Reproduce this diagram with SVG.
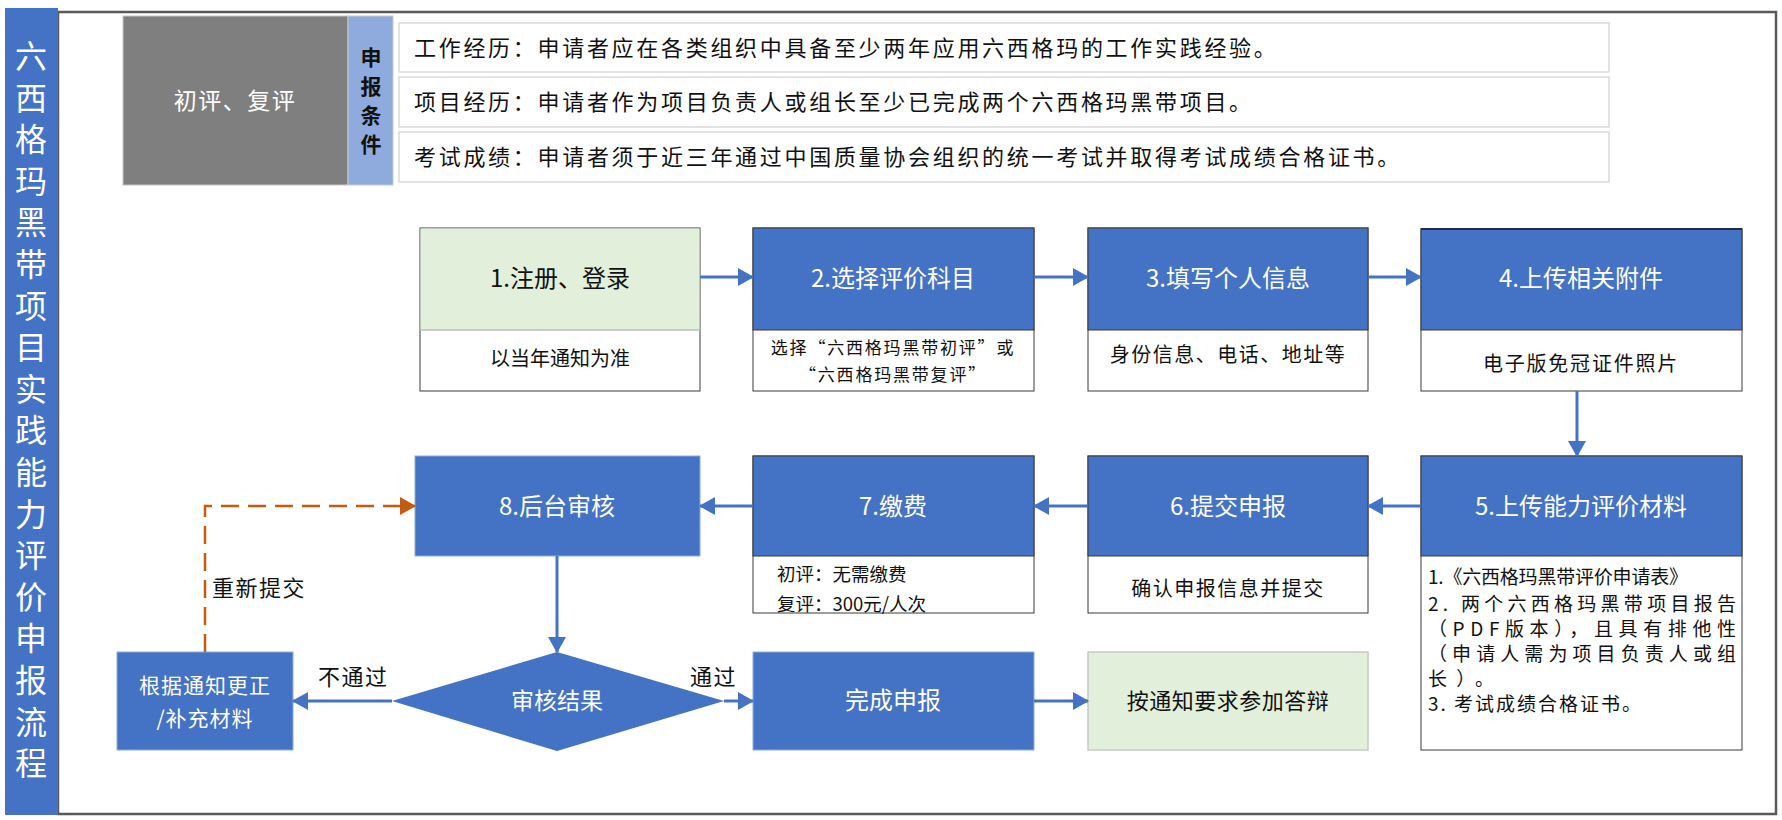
<svg xmlns="http://www.w3.org/2000/svg" width="1782" height="820" viewBox="0 0 1782 820">
<defs>
<style>
text{font-family:"Noto Sans CJK SC","Noto Sans",sans-serif;}
.hdr{fill:#4472C4;stroke:#3a3a3a;stroke-width:1;}
.body{fill:#FFFFFF;stroke:#3a3a3a;stroke-width:1;}
.wt{fill:#FFFFFF;}
.bk{fill:#111111;}
.c{text-anchor:middle;}
.h{font-size:24px;}
.req{fill:#FFFFFF;stroke:#D9D9D9;stroke-width:1.5;}
.reqt{font-size:22px;letter-spacing:2.7px;fill:#111;}
.vt{font-size:21px;font-weight:bold;fill:#111;text-anchor:middle;}
.conn{stroke:#4472C4;stroke-width:3;fill:none;marker-end:url(#ah);}
.dash{stroke:#C55A11;stroke-width:2.5;fill:none;stroke-dasharray:18 9;marker-end:url(#ao);}
.lbl{font-size:22px;letter-spacing:1.5px;fill:#111;}
</style>
<marker id="ah" markerUnits="userSpaceOnUse" markerWidth="16" markerHeight="18" refX="15" refY="9" orient="auto"><path d="M0,0 L16,9 L0,18 z" fill="#4472C4"/></marker>
<marker id="ao" markerUnits="userSpaceOnUse" markerWidth="16" markerHeight="18" refX="15" refY="9" orient="auto"><path d="M0,0 L16,9 L0,18 z" fill="#C55A11"/></marker>
</defs>
<rect width="1782" height="820" fill="#FFFFFF"/>

<g id="frame">
<rect x="58" y="12" width="1718" height="802" fill="none" stroke="#595959" stroke-width="2.5"/>
</g>

<g id="title">
<rect x="5" y="8" width="53" height="807" fill="#4472C4"/>
<text class="wt c" font-size="32" x="31">
<tspan x="31" y="68">六</tspan><tspan x="31" dy="41.6">西</tspan><tspan x="31" dy="41.6">格</tspan><tspan x="31" dy="41.6">玛</tspan><tspan x="31" dy="41.6">黑</tspan><tspan x="31" dy="41.6">带</tspan><tspan x="31" dy="41.6">项</tspan><tspan x="31" dy="41.6">目</tspan><tspan x="31" dy="41.6">实</tspan><tspan x="31" dy="41.6">践</tspan><tspan x="31" dy="41.6">能</tspan><tspan x="31" dy="41.6">力</tspan><tspan x="31" dy="41.6">评</tspan><tspan x="31" dy="41.6">价</tspan><tspan x="31" dy="41.6">申</tspan><tspan x="31" dy="41.6">报</tspan><tspan x="31" dy="41.6">流</tspan><tspan x="31" dy="41.6">程</tspan>
</text>
</g>

<g id="level">
<rect x="123" y="16" width="225" height="169" fill="#7F7F7F" stroke="#C8C8C8" stroke-width="1"/>
<text class="wt c" x="235" y="109" font-size="23" letter-spacing="1.5">初评、复评</text>
</g>

<g id="conditions">
<rect x="348" y="16" width="45" height="169" fill="#8FAADC" stroke="#C8C8C8" stroke-width="1"/>
<text class="vt" x="371" y="65">申</text>
<text class="vt" x="371" y="94">报</text>
<text class="vt" x="371" y="123">条</text>
<text class="vt" x="371" y="152">件</text>
</g>

<g id="req1">
<rect class="req" x="399" y="23" width="1210" height="49"/>
<text class="reqt" x="414" y="56">工作经历：申请者应在各类组织中具备至少两年应用六西格玛的工作实践经验。</text>
</g>
<g id="req2">
<rect class="req" x="399" y="77" width="1210" height="50"/>
<text class="reqt" x="414" y="110">项目经历：申请者作为项目负责人或组长至少已完成两个六西格玛黑带项目。</text>
</g>
<g id="req3">
<rect class="req" x="399" y="132" width="1210" height="50"/>
<text class="reqt" x="414" y="165">考试成绩：申请者须于近三年通过中国质量协会组织的统一考试并取得考试成绩合格证书。</text>
</g>

<g id="step1">
<rect x="420" y="228" width="280" height="163" fill="#FFFFFF" stroke="#3a3a3a" stroke-width="1"/>
<rect x="420.5" y="228.5" width="279" height="102" fill="#E2EFDA"/>
<line x1="420" y1="330" x2="700" y2="330" stroke="#BFBFBF" stroke-width="1.5"/>
<text class="bk c h" x="560" y="287">1.注册、登录</text>
<text class="bk c" x="560" y="366" font-size="20">以当年通知为准</text>
</g>

<g id="step2">
<rect class="body" x="753" y="228" width="281" height="163"/>
<rect class="hdr" x="753" y="228" width="281" height="102"/>
<text class="wt c h" x="893" y="287">2.选择评价科目</text>
<text class="bk c" x="893" y="354" font-size="17" letter-spacing="1.8">选择“六西格玛黑带初评”或</text>
<text class="bk c" x="893" y="381" font-size="17" letter-spacing="1.8">“六西格玛黑带复评”</text>
</g>

<g id="step3">
<rect class="body" x="1088" y="228" width="280" height="163"/>
<rect class="hdr" x="1088" y="228" width="280" height="102"/>
<text class="wt c h" x="1228" y="287">3.填写个人信息</text>
<text class="bk c" x="1228" y="362" font-size="20" letter-spacing="1.5">身份信息、电话、地址等</text>
</g>

<g id="step4">
<rect class="body" x="1421" y="229" width="321" height="162"/>
<rect class="hdr" x="1421" y="229" width="321" height="101"/>
<line x1="1421" y1="229" x2="1742" y2="229" stroke="#1F2D4D" stroke-width="2"/>
<text class="wt c h" x="1581" y="287">4.上传相关附件</text>
<text class="bk c" x="1581" y="371" font-size="20" letter-spacing="1.8">电子版免冠证件照片</text>
</g>

<g id="step5">
<rect class="body" x="1421" y="456" width="321" height="294"/>
<rect class="hdr" x="1421" y="456" width="321" height="100"/>
<text class="wt c h" x="1581" y="515">5.上传能力评价材料</text>
<text class="bk" font-size="19">
<tspan x="1428" y="584" textLength="260" lengthAdjust="spacing">1.《六西格玛黑带评价申请表》</tspan>
<tspan x="1428" y="611" textLength="308" lengthAdjust="spacing">2.  两个六西格玛黑带项目报告</tspan>
<tspan x="1428" y="636" textLength="308" lengthAdjust="spacing">（PDF版本），且具有排他性</tspan>
<tspan x="1428" y="661" textLength="308" lengthAdjust="spacing">（申请人需为项目负责人或组</tspan>
<tspan x="1428" y="686" textLength="66" lengthAdjust="spacing">长）。</tspan>
<tspan x="1428" y="711" textLength="213" lengthAdjust="spacing">3. 考试成绩合格证书。</tspan>
</text>
</g>

<g id="step6">
<rect class="body" x="1088" y="456" width="280" height="157"/>
<rect class="hdr" x="1088" y="456" width="280" height="100"/>
<text class="wt c h" x="1228" y="515">6.提交申报</text>
<text class="bk c" x="1228" y="596" font-size="20" letter-spacing="1.5">确认申报信息并提交</text>
</g>

<g id="step7">
<rect class="body" x="753" y="456" width="281" height="157"/>
<rect class="hdr" x="753" y="456" width="281" height="100"/>
<text class="wt c h" x="893" y="515">7.缴费</text>
<text class="bk" x="777" y="581" font-size="18.5">初评：无需缴费</text>
<text class="bk" x="777" y="611" font-size="18.5">复评：300元/人次</text>
</g>

<g id="step8">
<rect x="415" y="456" width="285" height="100" fill="#4472C4" stroke="#8FAADC" stroke-width="1"/>
<text class="wt c h" x="557" y="515">8.后台审核</text>
</g>

<g id="decision">
<path d="M557,652 L724,701 L557,751 L392,701 Z" fill="#4472C4"/>
<text class="wt c" x="557" y="709" font-size="23">审核结果</text>
</g>

<g id="revise">
<rect x="117" y="652" width="176" height="98" fill="#4472C4" stroke="#8FAADC" stroke-width="1"/>
<text class="wt c" x="205" y="693" font-size="21" letter-spacing="1">根据通知更正</text>
<text class="wt c" x="205" y="726" font-size="21" letter-spacing="1">/补充材料</text>
</g>

<g id="complete">
<rect x="753" y="652" width="281" height="98" fill="#4472C4" stroke="#8FAADC" stroke-width="1"/>
<text class="wt c h" x="893" y="709">完成申报</text>
</g>

<g id="defense">
<rect x="1088" y="652" width="280" height="98" fill="#E2EFDA" stroke="#C8C8C8" stroke-width="1.5"/>
<text class="bk c" x="1228" y="709" font-size="22" letter-spacing="0.5">按通知要求参加答辩</text>
</g>

<g id="connectors">
<line class="conn" x1="700" y1="277" x2="753" y2="277"/>
<line class="conn" x1="1034" y1="277" x2="1088" y2="277"/>
<line class="conn" x1="1368" y1="277" x2="1421" y2="277"/>
<line class="conn" x1="1577" y1="391" x2="1577" y2="456"/>
<line class="conn" x1="1421" y1="506" x2="1368" y2="506"/>
<line class="conn" x1="1088" y1="506" x2="1034" y2="506"/>
<line class="conn" x1="753" y1="506" x2="700" y2="506"/>
<line class="conn" x1="557" y1="556" x2="557" y2="652"/>
<line class="conn" x1="392" y1="701" x2="293" y2="701"/>
<line class="conn" x1="724" y1="701" x2="753" y2="701"/>
<line class="conn" x1="1034" y1="701" x2="1088" y2="701"/>
<path class="dash" d="M205,652 V506 H415"/>
<text class="lbl" x="318" y="685">不通过</text>
<text class="lbl" x="690" y="685">通过</text>
<text class="lbl" x="212" y="596">重新提交</text>
</g>
</svg>
